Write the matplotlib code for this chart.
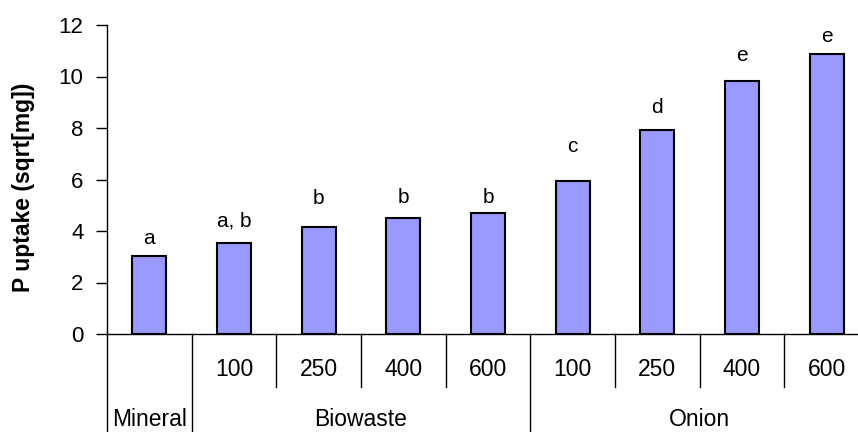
import matplotlib
matplotlib.use("Agg")
import matplotlib.pyplot as plt

plt.rcParams['font.family'] = ['Liberation Sans', 'DejaVu Sans']

groups = ["Mineral", "Biowaste", "Onion"]
group_sizes = [1, 4, 4]
doses = ["", "100", "250", "400", "600", "100", "250", "400", "600"]
values = [3.02, 3.55, 4.15, 4.52, 4.70, 5.95, 7.92, 9.82, 10.87]
letters = ["a", "a, b", "b", "b", "b", "c", "d", "e", "e"]
letter_y = [3.72, 4.40, 5.25, 5.30, 5.30, 7.30, 8.78, 10.83, 11.55]

W, H = 858, 432
fig = plt.figure(figsize=(W / 100, H / 100), dpi=100)
x0, x1 = 107, 869
ytop, y0 = 25, 334
ax = fig.add_axes([x0 / W, 1 - y0 / H, (x1 - x0) / W, (y0 - ytop) / H])

n = len(values)
xs = [i + 0.5 for i in range(n)]
ax.bar(xs, values, width=0.40, color="#9999FF", edgecolor="black", linewidth=1.5, zorder=3)

for x, t, ly in zip(xs, letters, letter_y):
    ax.text(x, ly, t, ha="center", va="center", fontsize=15)

ax.set_xlim(0, n)
ax.set_ylim(0, 12)
ax.set_yticks(range(0, 13, 2))
ax.tick_params(axis="y", direction="out", length=8, width=1, pad=9, labelsize=16)
ax.set_xticks([])
for s in ["top", "right"]:
    ax.spines[s].set_visible(False)
ax.spines["left"].set_linewidth(1)
ax.spines["bottom"].set_linewidth(1)

axh = y0 - ytop
def ay(py):
    return -(py - y0) / axh

tr = ax.get_xaxis_transform()
bounds = [0]
for s in group_sizes:
    bounds.append(bounds[-1] + s)
for b in bounds:
    ax.plot([b, b], [0, ay(H + 5)], color="black", lw=1, transform=tr, clip_on=False)
for i in range(n + 1):
    if i in bounds:
        continue
    ax.plot([i, i], [0, ay(387)], color="black", lw=1, transform=tr, clip_on=False)

for x, d in zip(xs, doses):
    if d:
        ax.text(x, ay(369), d, ha="center", va="center", fontsize=16.5, transform=tr)

for g, a, b in zip(groups, bounds[:-1], bounds[1:]):
    ax.text((a + b) / 2, ay(419), g, ha="center", va="center", fontsize=16.5, transform=tr)

fig.text(24 / W, 1 - 187 / H, "P uptake (sqrt[mg])", rotation=90, ha="center", va="center",
         fontsize=16.5, fontweight="bold")

fig.savefig("out.png", dpi=100)
